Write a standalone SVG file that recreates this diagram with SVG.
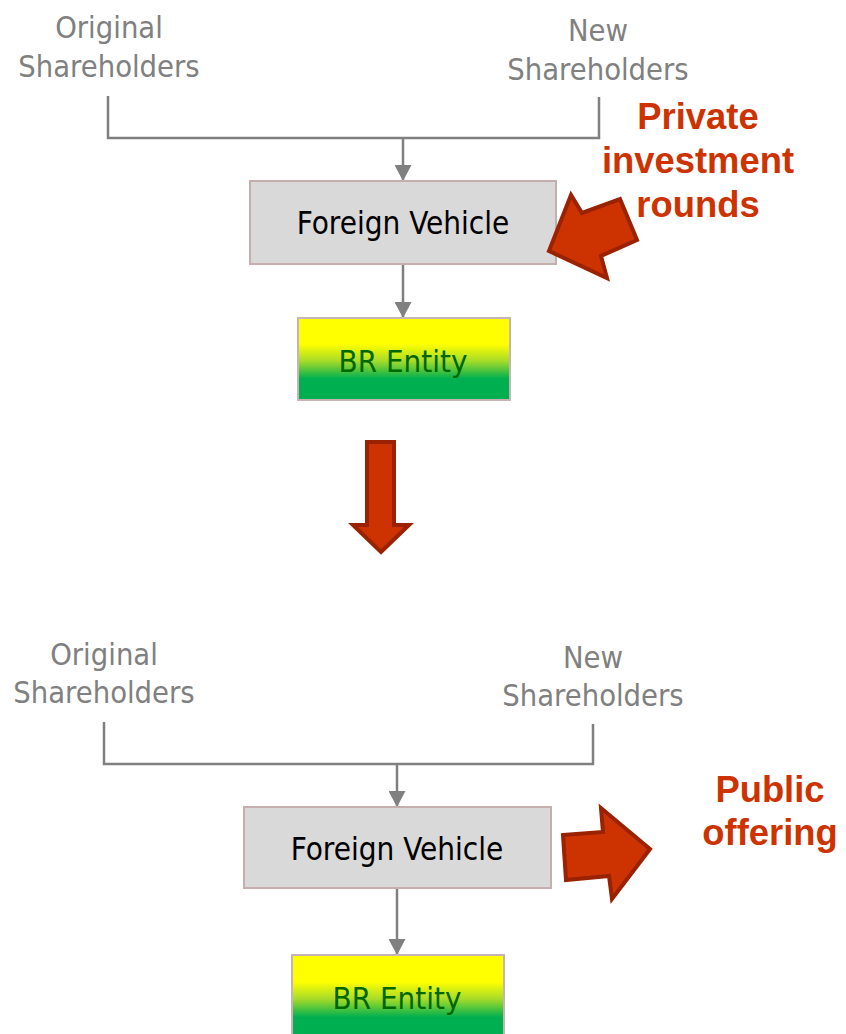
<svg xmlns="http://www.w3.org/2000/svg" width="846" height="1034" viewBox="0 0 846 1034">
  <defs>
    <style>
      .lbl { font-family: "DejaVu Sans Condensed", "DejaVu Sans", sans-serif; font-stretch: condensed; font-size: 30.6px; fill: #808080; text-anchor: middle; }
      .box-text { font-family: "DejaVu Sans Condensed", "DejaVu Sans", sans-serif; font-stretch: condensed; font-size: 31.2px; fill: #000000; text-anchor: middle; }
      .br-text { font-family: "DejaVu Sans Condensed", "DejaVu Sans", sans-serif; font-stretch: condensed; font-size: 31px; fill: #006600; text-anchor: middle; }
      .callout { font-family: "Liberation Sans", Arial, sans-serif; font-weight: bold; font-size: 36.4px; fill: #cc3300; text-anchor: middle; }
      .vehicle { fill: #d9d9d9; stroke: #c4aeae; stroke-width: 2; }
      .entity { fill: url(#brGrad); stroke: #c4b4b4; stroke-width: 2; }
      .conn { fill: none; stroke: #808080; stroke-width: 2.5; }
      .big-arrow { fill: #cc3300; stroke: #9a2200; stroke-width: 4; stroke-linejoin: miter; }
    </style>
    <linearGradient id="brGrad" x1="0" y1="0" x2="0" y2="1">
      <stop offset="0" stop-color="#ffff00"/>
      <stop offset="0.32" stop-color="#ffff00"/>
      <stop offset="0.52" stop-color="#a8dc28"/>
      <stop offset="0.74" stop-color="#00b050"/>
      <stop offset="1" stop-color="#00b050"/>
    </linearGradient>
    <marker id="tri" viewBox="0 0 16 17" refX="16" refY="8.5" markerWidth="17" markerHeight="17" markerUnits="userSpaceOnUse" orient="auto">
      <path d="M0,0 L16,8.5 L0,17 Z" fill="#808080"/>
    </marker>
  </defs>

  <!-- connectors -->
  <g id="connectors">
    <path class="conn" d="M108,96 V138 H599 V97"/>
    <path class="conn" d="M403,138 V181" marker-end="url(#tri)"/>
    <path class="conn" d="M403,264 V318" marker-end="url(#tri)"/>
    <path class="conn" d="M104,722 V764 H593 V724"/>
    <path class="conn" d="M397,764 V807" marker-end="url(#tri)"/>
    <path class="conn" d="M397,888 V955" marker-end="url(#tri)"/>
  </g>

  <!-- stage 1: private rounds -->
  <g id="orig-sh-1">
    <text class="lbl" x="109" y="38">Original</text>
    <text class="lbl" x="109" y="77">Shareholders</text>
  </g>
  <g id="new-sh-1">
    <text class="lbl" x="598" y="41">New</text>
    <text class="lbl" x="598" y="80">Shareholders</text>
  </g>
  <g id="vehicle-1">
    <rect class="vehicle" x="250" y="181" width="306" height="83"/>
    <text class="box-text" x="403" y="234">Foreign Vehicle</text>
  </g>
  <g id="entity-1">
    <rect class="entity" x="298" y="318" width="212" height="82"/>
    <text class="br-text" x="403" y="372">BR Entity</text>
  </g>
  <g id="private-rounds">
    <polygon class="big-arrow" points="549,251 571,195 582,213 620,199 637,240 601,256 607,278"/>
    <text class="callout" x="698" y="129">Private</text>
    <text class="callout" x="698" y="173">investment</text>
    <text class="callout" x="698" y="217">rounds</text>
  </g>

  <!-- transition -->
  <g id="transition">
    <polygon class="big-arrow" points="367,442 394,442 394,525 409,525 381,552 353,525 367,525"/>
  </g>

  <!-- stage 2: public offering -->
  <g id="orig-sh-2">
    <text class="lbl" x="104" y="665">Original</text>
    <text class="lbl" x="104" y="703">Shareholders</text>
  </g>
  <g id="new-sh-2">
    <text class="lbl" x="593" y="668">New</text>
    <text class="lbl" x="593" y="706">Shareholders</text>
  </g>
  <g id="vehicle-2">
    <rect class="vehicle" x="244" y="807" width="307" height="81"/>
    <text class="box-text" x="397" y="860">Foreign Vehicle</text>
  </g>
  <g id="entity-2">
    <rect class="entity" x="292" y="955" width="212" height="84"/>
    <text class="br-text" x="397" y="1009">BR Entity</text>
  </g>
  <g id="public-offering">
    <polygon class="big-arrow" points="563,835 603,832 601,808 650,849 612,899 609,876 566,880"/>
    <text class="callout" x="770" y="802">Public</text>
    <text class="callout" x="770" y="845">offering</text>
  </g>
</svg>
